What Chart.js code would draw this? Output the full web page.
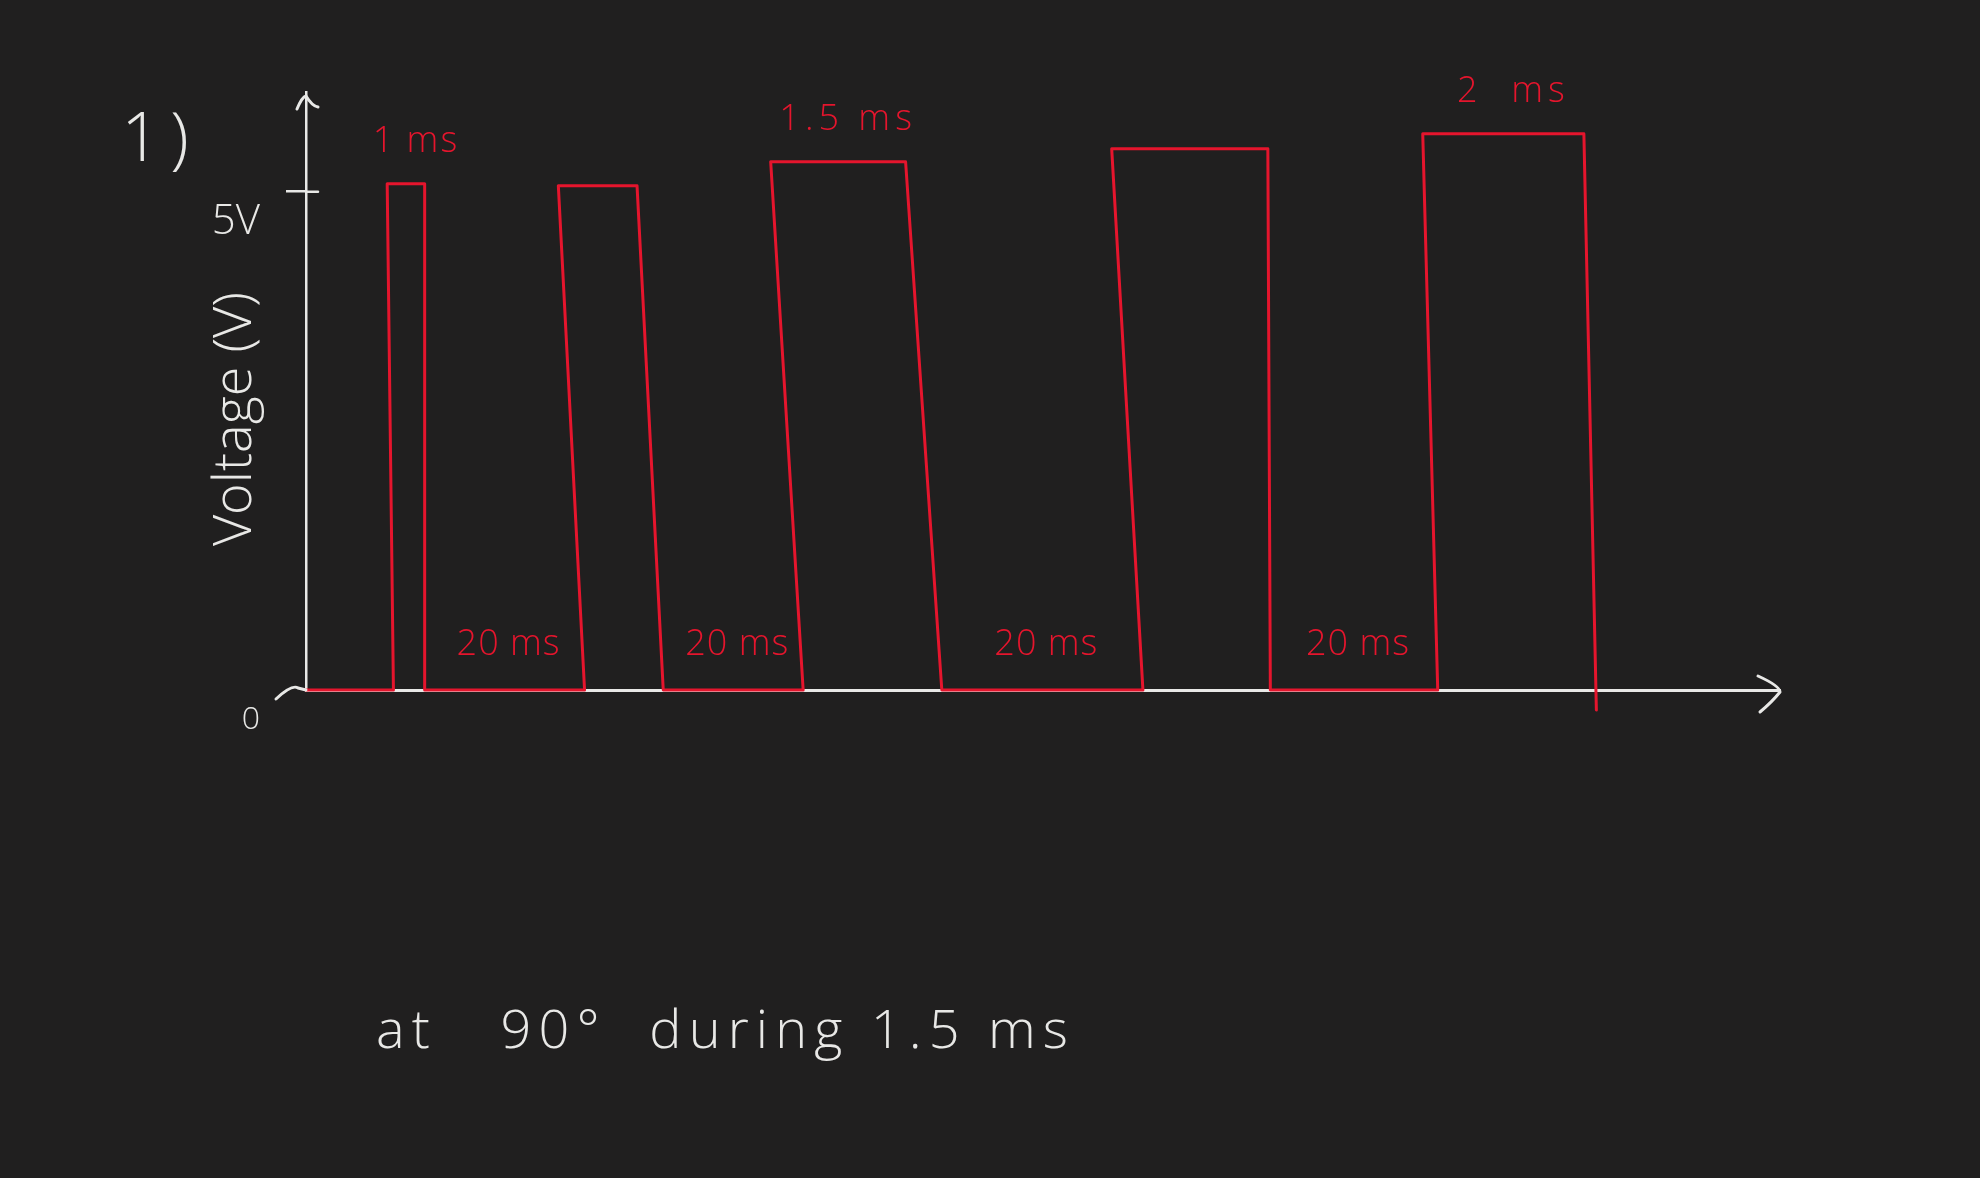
<!DOCTYPE html>
<html>
<head>
<meta charset="utf-8">
<script src="https://cdn.jsdelivr.net/npm/chart.js@4.4.1/dist/chart.umd.min.js"></script>
<style>
html,body{margin:0;padding:0;background:#201f1f;overflow:hidden}
canvas{display:block}
</style>
</head>
<body>
<canvas id="c" width="1980" height="1178"></canvas>
<script>
// ---- data (time in sketch units, voltage in V) ----
// start, then per pulse: rise-bottom, rise-top, fall-top, fall-bottom
const signalTime = [0,
  7.0, 6.5, 9.5, 9.5,
  22.3, 20.2, 26.5, 28.6,
  39.8, 37.2, 48.0, 50.9,
  67.0, 64.5, 77.0, 77.2,
  90.6, 89.4, 102.3, 103.3];
const signalVolt = [0,
  0, 5.08, 5.08, 0,
  0, 5.06, 5.06, 0,
  0, 5.30, 5.30, 0,
  0, 5.43, 5.43, 0,
  0, 5.58, 5.58, -0.2];
const pulseLabels = ['1 ms', '', '1.5 ms', '', '2  ms'];
const gapLabels = ['20 ms', '20 ms', '20 ms', '20 ms'];
const yTickValues = [0, 5];
const yTickLabels = ['0', '5V'];
const yAxisTitle = 'Voltage (V)';
const problemLabel = '1)';
const noteText = 'at   90°  during 1.5 ms';

const RED = '#e5152d';
const WHITE = '#e8e8e6';
const FONT = '"Open Sans", "Noto Sans", sans-serif';

const points = signalTime.map((t, i) => ({x: t, y: signalVolt[i]}));

const sketchPlugin = {
  id: 'sketch',
  beforeDraw(chart) {
    const ctx = chart.ctx;
    ctx.save();
    ctx.fillStyle = '#201f1f';
    ctx.fillRect(0, 0, chart.width, chart.height);
    ctx.restore();
  },
  afterDraw(chart) {
    const ctx = chart.ctx;
    const a = chart.chartArea;
    const xs = chart.scales.x, ys = chart.scales.y;
    ctx.save();
    ctx.lineCap = 'round';
    ctx.lineJoin = 'round';
    // axis arrows
    ctx.strokeStyle = WHITE;
    ctx.lineWidth = 3;
    ctx.beginPath();
    ctx.moveTo(a.left - 9, a.top + 17);
    ctx.quadraticCurveTo(a.left - 4, a.top + 5, a.left, a.top + 4);
    ctx.quadraticCurveTo(a.left + 6, a.top + 14, a.left + 12, a.top + 15);
    ctx.stroke();
    ctx.beginPath();
    ctx.moveTo(a.right - 22, a.bottom - 14);
    ctx.quadraticCurveTo(a.right, a.bottom - 4, a.right, a.bottom + 2);
    ctx.quadraticCurveTo(a.right - 8, a.bottom + 12, a.right - 20, a.bottom + 22);
    ctx.stroke();
    ctx.beginPath();
    ctx.moveTo(a.left - 30, a.bottom + 9);
    ctx.quadraticCurveTo(a.left - 14, a.bottom - 6, a.left - 8, a.bottom - 2);
    ctx.lineTo(a.left, a.bottom);
    ctx.stroke();
    // 5V tick crossing inside
    ctx.lineWidth = 2.5;
    ctx.beginPath();
    ctx.moveTo(a.left, ys.getPixelForValue(yTickValues[1]));
    ctx.lineTo(a.left + 12, ys.getPixelForValue(yTickValues[1]));
    ctx.stroke();

    // red annotations
    ctx.fillStyle = RED;
    ctx.textAlign = 'center';
    ctx.textBaseline = 'middle';
    ctx.font = '300 36px ' + FONT;
    pulseLabels.forEach((lab, i) => {
      if (!lab) return;
      const riseTop = signalTime[2 + 4 * i], fallTop = signalTime[3 + 4 * i];
      const top = signalVolt[2 + 4 * i];
      ctx.letterSpacing = i === 0 ? '2px' : '5px';
      ctx.fillText(lab, xs.getPixelForValue((riseTop + fallTop) / 2) + 10, ys.getPixelForValue(top) - 42);
    });
    ctx.letterSpacing = '1px';
    gapLabels.forEach((lab, i) => {
      const from = signalTime[4 + 4 * i], to = signalTime[5 + 4 * i];
      ctx.fillText(lab, xs.getPixelForValue((from + to) / 2) + 4, ys.getPixelForValue(0) - 45);
    });

    // white handwriting-like notes
    ctx.fillStyle = WHITE;
    ctx.font = '300 68px ' + FONT;
    ctx.letterSpacing = '10px';
    ctx.fillText(problemLabel, a.left - 146, a.top + 50);

    ctx.font = '300 54px ' + FONT;
    ctx.textAlign = 'left';
    ctx.textBaseline = 'alphabetic';
    ctx.letterSpacing = '0px';
    const w = ctx.measureText(noteText).width;
    const target = 692;
    ctx.letterSpacing = ((target - w) / (noteText.length - 1)) + 'px';
    ctx.fillText(noteText, a.left + 70, a.bottom + 358);
    ctx.restore();
  }
};

new Chart(document.getElementById('c'), {
  type: 'line',
  data: {
    datasets: [{
      data: points,
      borderColor: RED,
      borderWidth: 3,
      pointRadius: 0,
      tension: 0,
      fill: false,
      clip: false,
      borderJoinStyle: 'round',
      borderCapStyle: 'round'
    }]
  },
  options: {
    responsive: false,
    animation: false,
    devicePixelRatio: 1,
    layout: {padding: {left: 203, top: 92, right: 200, bottom: 488}},
    plugins: {legend: {display: false}, tooltip: {enabled: false}},
    scales: {
      x: {
        type: 'linear',
        min: 0,
        max: 118,
        ticks: {display: false},
        grid: {display: false},
        border: {display: true, color: WHITE, width: 3},
        afterFit: s => { s.height = 0; }
      },
      y: {
        type: 'linear',
        min: 0,
        max: 6,
        afterBuildTicks: s => { s.ticks = yTickValues.map(v => ({value: v})); },
        ticks: {
          color: WHITE,
          padding: 26,
          labelOffset: 30,
          font: ctx => ({family: FONT, size: ctx.tick && ctx.tick.value === 0 ? 32 : 42, weight: '300'}),
          callback: (v) => yTickLabels[yTickValues.indexOf(v)]
        },
        grid: {
          display: true,
          drawOnChartArea: false,
          drawTicks: true,
          tickLength: 20,
          lineWidth: 2.5,
          color: ctx => (ctx.tick && ctx.tick.value === 0) ? 'rgba(0,0,0,0)' : WHITE
        },
        border: {display: true, color: WHITE, width: 2.5},
        title: {
          display: true,
          text: yAxisTitle + '    ',
          color: WHITE,
          font: {family: FONT, size: 54, weight: '300'},
          padding: 0
        },
        afterFit: s => { s.width = 103; }
      }
    }
  },
  plugins: [sketchPlugin]
});
</script>
</body>
</html>
